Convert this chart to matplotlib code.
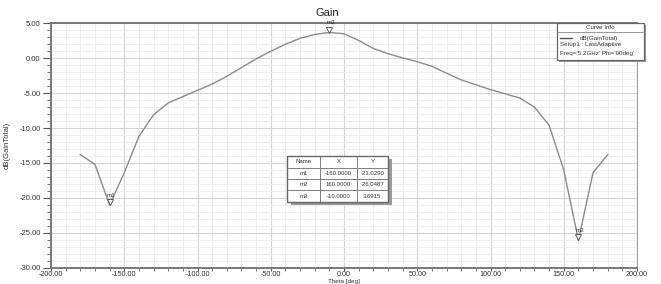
import matplotlib
matplotlib.use("Agg")
import matplotlib.pyplot as plt
from matplotlib.ticker import FixedLocator, FixedFormatter, MultipleLocator
from matplotlib.transforms import offset_copy
from matplotlib.patches import Rectangle

# =============================
# Data
# =============================
theta = [-180, -170, -160, -150, -140, -130, -120, -110, -100, -90,
         -80, -70, -60, -50, -40, -30, -20, -10, 0, 10,
         20, 30, 40, 50, 60, 70, 80, 90, 100, 110,
         120, 130, 140, 150, 160, 170, 180]
gain_db = [-13.8, -15.2, -21.029, -16.4, -11.2, -8.1, -6.4, -5.5, -4.6, -3.7,
           -2.6, -1.35, -0.1, 1.0, 2.0, 2.85, 3.4, 3.6915, 3.5, 2.55,
           1.4, 0.65, 0.05, -0.5, -1.15, -2.15, -3.1, -3.8, -4.5, -5.1,
           -5.7, -7.0, -9.6, -16.0, -26.0487, -16.4, -13.8]

marker_names = ["m1", "m2", "m3"]
marker_x = [-160.0, 160.0, -10.0]
marker_y = [-21.0290, -26.0487, 3.6915]

x_ticks = [-200, -150, -100, -50, 0, 50, 100, 150, 200]
x_tick_labels = ["-200.00", "-150.00", "-100.00", "-50.00", "0.00",
                 "50.00", "100.00", "150.00", "200.00"]
y_ticks = [5, 0, -5, -10, -15, -20, -25, -30]
y_tick_labels = ["5.00", "0.00", "-5.00", "-10.00", "-15.00",
                 "-20.00", "-25.00", "-30.00"]

legend_lines = ["dB(GainTotal)", "Setup1 : LastAdaptive",
                "Freq='5.2GHz' Phi='90deg'"]

# =============================
# Figure
# =============================
plt.rcParams["font.family"] = ["Liberation Sans", "DejaVu Sans"]
W, H = 661, 284
fig = plt.figure(figsize=(W / 100, H / 100), dpi=100)
ax = fig.add_axes([51 / W, 1 - 267.7 / H, 586 / W, 244.4 / H])

ax.set_xlim(-200, 200)
ax.set_ylim(-30, 5)

ax.xaxis.set_major_locator(FixedLocator(x_ticks))
ax.xaxis.set_major_formatter(FixedFormatter(x_tick_labels))
ax.xaxis.set_minor_locator(MultipleLocator(10))
ax.yaxis.set_major_locator(FixedLocator(y_ticks))
ax.yaxis.set_major_formatter(FixedFormatter(y_tick_labels))
ax.yaxis.set_minor_locator(MultipleLocator(1))

ax.grid(which="major", color="#d4d4d4", lw=0.8)
ax.grid(which="minor", color="#ececec", lw=0.6)
ax.set_axisbelow(True)

ax.tick_params(axis="y", which="major", labelsize=5.5, colors="#555555",
               labelcolor="#333333", length=6, width=0.8, pad=1.5)
ax.tick_params(axis="y", which="minor", colors="#666666", length=3, width=0.6)
ax.tick_params(axis="x", which="major", labelsize=5.2, colors="#555555",
               labelcolor="#333333", length=2, width=0.8, pad=0.5)
ax.tick_params(axis="x", which="minor", colors="#666666", length=2, width=0.6)

for side in ["top", "left", "bottom"]:
    ax.spines[side].set_color("#707070")
    ax.spines[side].set_linewidth(1.3)
ax.spines["right"].set_color("#a0a0a0")
ax.spines["right"].set_linewidth(0.8)

# curve
ax.plot(theta, gain_db, color="#8c8c8c", lw=1.0, zorder=3)

# markers
tri = offset_copy(ax.transData, fig=fig, x=0, y=2.0, units="points")
ax.plot(marker_x, marker_y, ls="none", marker="v", ms=4, mfc="white",
        mec="#444444", mew=0.6, transform=tri, zorder=4)
for name, mx, my in zip(marker_names, marker_x, marker_y):
    ax.annotate(name, (mx, my), xytext=(1.2, 7), textcoords="offset points",
                ha="center", va="center", fontsize=4.5, color="#333333", zorder=5)

# titles
fig.text(327 / W, 1 - 13 / H, "Gain", ha="center", va="center",
         fontsize=8, color="#222222")
fig.text(7 / W, 1 - 145 / H, "dB(GainTotal)", rotation=90, ha="center",
         va="center", fontsize=5.5, color="#333333")
fig.text(344 / W, 0.5 / H, "Theta [deg]", ha="center", va="bottom",
         fontsize=4.5, color="#333333")

# marker table
cell_text = [[n, f"{x:.4f}", f"{y:.4f}"]
             for n, x, y in zip(marker_names, marker_x, marker_y)]
tx0, tx1 = (287 - 51) / 586, (388 - 51) / 586
ty0, ty1 = (267.7 - 202) / 244.4, (267.7 - 156) / 244.4
shadow = Rectangle((tx0 + 0.006, ty0 - 0.014), tx1 - tx0, ty1 - ty0,
                   transform=ax.transAxes, facecolor="#9a9a9a",
                   edgecolor="none", zorder=5)
ax.add_patch(shadow)
tbl = ax.table(cellText=cell_text, colLabels=["Name", "X", "Y"],
               bbox=[tx0, ty0, tx1 - tx0, ty1 - ty0],
               colWidths=[0.33, 0.36, 0.31], cellLoc="center", zorder=6)
tbl.auto_set_font_size(False)
for cell in tbl.get_celld().values():
    cell.set_fontsize(4.3)
    cell.set_edgecolor("#777777")
    cell.set_linewidth(0.6)
    cell.set_facecolor("white")
    cell.get_text().set_color("#333333")
border = Rectangle((tx0, ty0), tx1 - tx0, ty1 - ty0, transform=ax.transAxes,
                   fill=False, edgecolor="#666666", lw=1.0, zorder=7)
ax.add_patch(border)

# curve info box (figure pixels)
def fx(px):
    return px / W

def fy(py):
    return 1 - py / H

bx0, bx1, by0, by1 = 556.7, 644, 22.7, 60
fig.patches.append(Rectangle((fx(bx0 + 2), fy(by1 + 2)), fx(bx1 - bx0), (by1 - by0) / H,
                             transform=fig.transFigure, facecolor="#9a9a9a",
                             edgecolor="none", zorder=5))
fig.patches.append(Rectangle((fx(bx0), fy(by1)), fx(bx1 - bx0), (by1 - by0) / H,
                             transform=fig.transFigure, facecolor="white",
                             edgecolor="#666666", lw=0.9, zorder=6))
fig.lines.append(plt.Line2D([fx(bx0), fx(bx1)], [fy(32.3), fy(32.3)],
                            transform=fig.transFigure, color="#888888",
                            lw=0.6, zorder=7))
fig.text(fx(600), fy(27.5), "Curve Info", ha="center", va="center",
         fontsize=4.5, color="#333333", zorder=8)
fig.lines.append(plt.Line2D([fx(560), fx(572)], [fy(38.3), fy(38.3)],
                            transform=fig.transFigure, color="#555555",
                            lw=1.0, zorder=7))
fig.text(fx(599), fy(38.3), legend_lines[0], ha="center", va="center",
         fontsize=4.5, color="#333333", zorder=8)
fig.text(fx(560), fy(44.5), legend_lines[1], ha="left", va="center",
         fontsize=4.5, color="#333333", zorder=8)
fig.text(fx(560), fy(53), legend_lines[2], ha="left", va="center",
         fontsize=4.5, color="#333333", zorder=8)

fig.savefig("out.png", dpi=100)
